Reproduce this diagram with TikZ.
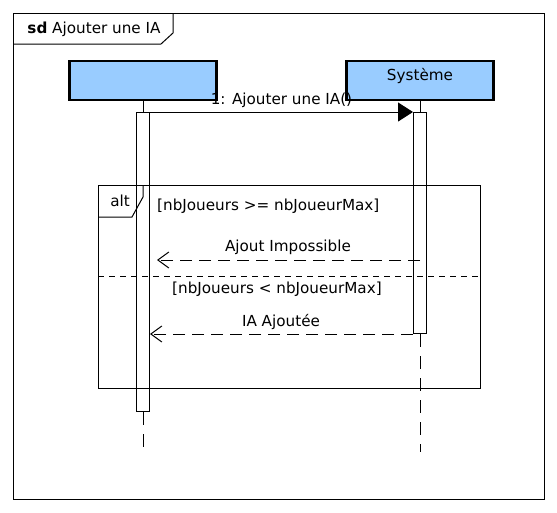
\documentclass[tikz,border=0pt]{standalone}
\usepackage{fontspec}
\setmainfont{DejaVu Sans}
\usetikzlibrary{arrows.meta}
\definecolor{boxblue}{RGB}{153,204,255}
\begin{document}
\begin{tikzpicture}[x=1pt,y=-1pt,
  font=\fontsize{15.2}{17}\selectfont,
  frameline/.style={line width=1pt},
  lifebox/.style={draw, line width=2.5pt, fill=boxblue, minimum width=147pt, minimum height=39pt, inner sep=0pt},
  actbar/.style={draw, line width=1pt, minimum width=13pt, inner sep=0pt, anchor=north},
  lifedash/.style={line width=1pt, dash pattern=on 13pt off 9pt},
  retmsg/.style={line width=1pt, dash pattern=on 12pt off 7pt, -{Straight Barb[length=11pt,width=16pt,line width=1pt]}},
  synmsg/.style={line width=1pt, -{Triangle[length=15pt,width=19pt]}},
  sepline/.style={line width=1pt, dash pattern=on 6pt off 5pt}]
\useasboundingbox (0,0) rectangle (557,512);
\fill[white] (0,0) rectangle (557,512);
% outer frame
\node[draw, frameline, anchor=north west, minimum width=531pt, minimum height=486pt, inner sep=0pt] (frame) at (13,13) {};
\draw[frameline] (13,44) -- (161,44) -- (173,33) -- (173,13);
\node (title) at (94,29) {\textbf{sd} Ajouter une IA};
% lifeline heads
\node[lifebox] (A) at (143,80.5) {};
\node[lifebox, text depth=0pt, text height=0pt] (S) at (420,80.5) {};
\node (Slbl) at (420,76) {Système};
% activations
\node[actbar, minimum height=299pt] (aa) at (143,112) {};
\node[actbar, minimum height=221pt] (as) at (420,112) {};
\draw[line width=1pt] (A.south) -- (aa.north);
\draw[line width=1pt] (S.south) -- (as.north);
\coordinate (aend) at (143,452);
\coordinate (send) at (420,452);
\draw[lifedash] (aa.south) -- (aend);
\draw[lifedash] (as.south) -- (send);
% message 1
\draw[synmsg] (aa.north east) -- (as.north west);
\path (aa.north east) -- (as.north west) node[midway, yshift=12pt] (m1) {1: Ajouter une IA()};
% alt fragment
\node[draw, frameline, anchor=north west, minimum width=382pt, minimum height=203pt, inner sep=0pt] (alt) at (98,185) {};
\draw[frameline] (98,217) -- (132,217) -- (143,197) -- (143,185);
\node (altlbl) at (120,201) {alt};
\node[anchor=west, inner sep=0pt] (g1) at (157,206) {[nbJoueurs >= nbJoueurMax]};
\coordinate (sepL) at (98,276);
\coordinate (sepR) at (480,276);
\draw[sepline] (sepL) -- (sepR);
\node[anchor=west, inner sep=0pt] (g2) at (172,289) {[nbJoueurs < nbJoueurMax]};
% return 1
\coordinate (r1s) at (420,260);
\coordinate (r1e) at (157,260);
\draw[retmsg] (r1s) -- (r1e);
\node (t1) at (288,247) {Ajout Impossible};
% return 2
\draw[retmsg] (as.south west) -- (aa.east |- as.south west);
\node (t2) at (281,322) {IA Ajoutée};
\end{tikzpicture}
\end{document}
